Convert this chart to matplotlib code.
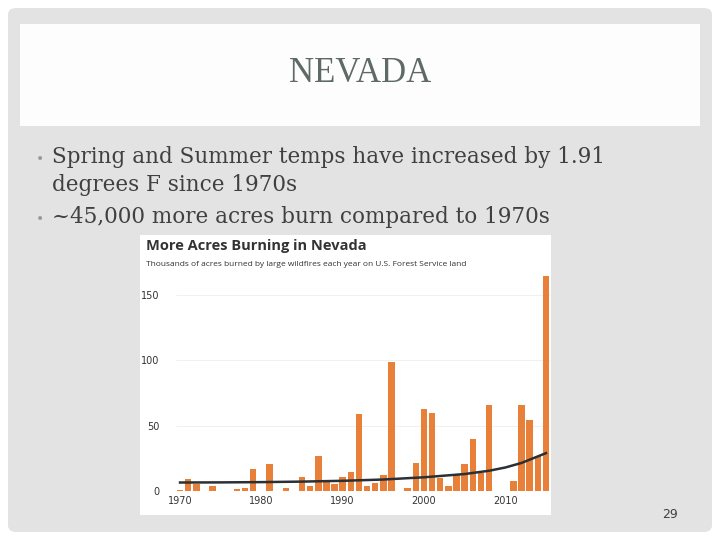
import matplotlib
matplotlib.use('Agg')
import matplotlib.pyplot as plt
from matplotlib.patches import FancyBboxPatch, Rectangle

# ── Data (thousands of acres burned, Nevada USFS land) ──
years = list(range(1970, 2016))
acres = [0.5, 9, 5, 0.3, 3.5, 0.3, 0.3, 1.5, 2, 16.5,
         0.3, 21, 0.2, 2, 0.3, 10.5, 4, 26.5, 7, 5,
         11, 14.5, 59, 4, 6.5, 12.5, 98.5, 0.3, 2, 21.5,
         62.5, 60, 10, 4, 12, 21, 40, 14, 66, 0.3,
         0.3, 8, 66, 54.5, 27, 164.5]
trend_years = [1970, 1975, 1980, 1985, 1990, 1995, 2000, 2005, 2008, 2010, 2012, 2015]
trend_vals = [6.5, 6.6, 6.8, 7.2, 7.8, 8.8, 10.5, 13, 15.5, 18, 21.5, 29]
xticks = [1970, 1980, 1990, 2000, 2010]
yticks = [0, 50, 100, 150]

W, H = 720, 540
fig = plt.figure(figsize=(7.2, 5.4), dpi=100)
fig.patch.set_facecolor('white')

def px(x0, y0, x1, y1):
    # pixel box (top-left origin) -> figure fraction rect
    return x0 / W, 1 - y1 / H, (x1 - x0) / W, (y1 - y0) / H

# slide background (kept below the axes)
r = px(8, 8, 712, 532)
fig.patches.append(FancyBboxPatch((r[0], r[1]), r[2], r[3], boxstyle='round,pad=0,rounding_size=0.012',
                                  transform=fig.transFigure, facecolor='#e3e3e3', edgecolor='none', zorder=-10))
r = px(20, 24, 700, 126)
fig.patches.append(Rectangle((r[0], r[1]), r[2], r[3], transform=fig.transFigure,
                             facecolor='#fdfdfd', edgecolor='none', zorder=-9))
r = px(140, 235, 551, 515)
fig.patches.append(Rectangle((r[0], r[1]), r[2], r[3], transform=fig.transFigure,
                             facecolor='white', edgecolor='none', zorder=-9))

serif = 'DejaVu Serif'
fig.text(360 / W, 1 - 74 / H, 'NEVADA', ha='center', va='center', fontsize=25,
         family='Liberation Serif', color='#5f6a68')
fig.text(40 / W, 1 - 159 / H, '•', ha='center', va='center', fontsize=10, color='#999999')
fig.text(52 / W, 1 - 157 / H, 'Spring and Summer temps have increased by 1.91',
         va='center', fontsize=15.5, family=serif, color='#404040')
fig.text(52 / W, 1 - 185 / H, 'degrees F since 1970s',
         va='center', fontsize=15.5, family=serif, color='#404040')
fig.text(40 / W, 1 - 219 / H, '•', ha='center', va='center', fontsize=10, color='#999999')
fig.text(52 / W, 1 - 217 / H, '~45,000 more acres burn compared to 1970s',
         va='center', fontsize=15.5, family=serif, color='#404040')
fig.text(670 / W, 1 - 515 / H, '29', ha='center', va='center', fontsize=9, color='#404040')

fig.text(146 / W, 1 - 246 / H, 'More Acres Burning in Nevada', va='center',
         fontsize=10.5, fontweight='bold', color='#333333', family='Open Sans')
fig.text(146 / W, 1 - 264 / H, 'Thousands of acres burned by large wildfires each year on U.S. Forest Service land',
         va='center', fontsize=6, color='#333333', family='Open Sans')

# ── Bar chart ──
ax = fig.add_axes(px(176, 273, 550, 491))
ax.bar(years, acres, width=0.8, color='#e8803a', zorder=2)
ax.plot(trend_years, trend_vals, color='#2b3035', linewidth=1.8, zorder=3)
ax.set_xlim(1969.5, 2015.5)
ax.set_ylim(0, 167)
ax.set_xticks(xticks)
ax.set_yticks(yticks)
ax.tick_params(length=0, labelsize=7, colors='#333333')
ax.tick_params(axis='y', pad=12)
ax.grid(axis='y', color='#eeeeee', linewidth=0.6, zorder=0)
ax.set_axisbelow(True)
for s in ax.spines.values():
    s.set_visible(False)
ax.set_facecolor('white')

plt.savefig('out.png', dpi=100)
